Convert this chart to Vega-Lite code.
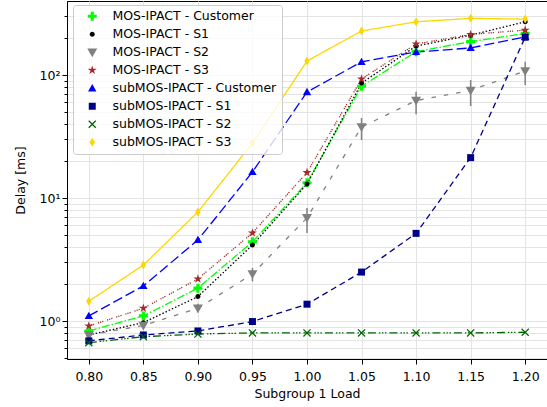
{
  "$schema": "https://vega.github.io/schema/vega-lite/v6.json",
  "width": 480,
  "height": 358,
  "autosize": {"type": "none"},
  "padding": {"left": 67, "top": 1, "right": 0, "bottom": 48},
  "background": "white",
  "config": {
    "view": {"stroke": "black", "strokeWidth": 1},
    "axis": {
      "labelFont": "DejaVu Sans", "titleFont": "DejaVu Sans",
      "labelFontSize": 12.5, "titleFontSize": 12.5, "titleFontWeight": "normal",
      "labelColor": "black", "titleColor": "black",
      "domainColor": "black", "tickColor": "black",
      "gridColor": "#e4e4e4", "grid": true, "labelOverlap": false
    },
    "legend": {
      "title": null, "orient": "none", "legendX": 6, "legendY": 4,
      "labelFont": "DejaVu Sans", "labelFontSize": 12.5, "labelColor": "black", "labelLimit": 300,
      "strokeColor": "#cccccc", "fillColor": "rgba(255,255,255,0.8)", "cornerRadius": 3,
      "padding": 5, "rowPadding": 5, "symbolSize": 64, "symbolOffset": 8, "labelOffset": 14,
      "symbolStrokeWidth": 0
    }
  },
  "datasets": {
    "series": [
      {"load": 0.80, "delay": 0.83, "series": "MOS-IPACT - Customer"},
      {"load": 0.85, "delay": 1.10, "series": "MOS-IPACT - Customer"},
      {"load": 0.90, "delay": 1.85, "series": "MOS-IPACT - Customer"},
      {"load": 0.95, "delay": 4.4, "series": "MOS-IPACT - Customer"},
      {"load": 1.00, "delay": 13.3, "series": "MOS-IPACT - Customer"},
      {"load": 1.05, "delay": 81, "series": "MOS-IPACT - Customer"},
      {"load": 1.10, "delay": 155, "series": "MOS-IPACT - Customer"},
      {"load": 1.15, "delay": 187, "series": "MOS-IPACT - Customer"},
      {"load": 1.20, "delay": 218, "series": "MOS-IPACT - Customer"},
      {"load": 0.80, "delay": 0.77, "series": "MOS-IPACT - S1"},
      {"load": 0.85, "delay": 0.97, "series": "MOS-IPACT - S1"},
      {"load": 0.90, "delay": 1.58, "series": "MOS-IPACT - S1"},
      {"load": 0.95, "delay": 4.15, "series": "MOS-IPACT - S1"},
      {"load": 1.00, "delay": 13.0, "series": "MOS-IPACT - S1"},
      {"load": 1.05, "delay": 86, "series": "MOS-IPACT - S1"},
      {"load": 1.10, "delay": 172, "series": "MOS-IPACT - S1"},
      {"load": 1.15, "delay": 211, "series": "MOS-IPACT - S1"},
      {"load": 1.20, "delay": 271, "series": "MOS-IPACT - S1"},
      {"load": 0.80, "delay": 0.77, "series": "MOS-IPACT - S2"},
      {"load": 0.85, "delay": 0.92, "series": "MOS-IPACT - S2"},
      {"load": 0.90, "delay": 1.27, "series": "MOS-IPACT - S2"},
      {"load": 0.95, "delay": 2.41, "series": "MOS-IPACT - S2"},
      {"load": 1.00, "delay": 6.9, "series": "MOS-IPACT - S2"},
      {"load": 1.05, "delay": 37.8, "series": "MOS-IPACT - S2"},
      {"load": 1.10, "delay": 62, "series": "MOS-IPACT - S2"},
      {"load": 1.15, "delay": 75, "series": "MOS-IPACT - S2"},
      {"load": 1.20, "delay": 108, "series": "MOS-IPACT - S2"},
      {"load": 0.80, "delay": 0.91, "series": "MOS-IPACT - S3"},
      {"load": 0.85, "delay": 1.27, "series": "MOS-IPACT - S3"},
      {"load": 0.90, "delay": 2.2, "series": "MOS-IPACT - S3"},
      {"load": 0.95, "delay": 5.2, "series": "MOS-IPACT - S3"},
      {"load": 1.00, "delay": 16.1, "series": "MOS-IPACT - S3"},
      {"load": 1.05, "delay": 93, "series": "MOS-IPACT - S3"},
      {"load": 1.10, "delay": 179, "series": "MOS-IPACT - S3"},
      {"load": 1.15, "delay": 214, "series": "MOS-IPACT - S3"},
      {"load": 1.20, "delay": 232, "series": "MOS-IPACT - S3"},
      {"load": 0.80, "delay": 1.10, "series": "subMOS-IPACT - Customer"},
      {"load": 0.85, "delay": 1.93, "series": "subMOS-IPACT - Customer"},
      {"load": 0.90, "delay": 4.56, "series": "subMOS-IPACT - Customer"},
      {"load": 0.95, "delay": 16.3, "series": "subMOS-IPACT - Customer"},
      {"load": 1.00, "delay": 72.8, "series": "subMOS-IPACT - Customer"},
      {"load": 1.05, "delay": 128, "series": "subMOS-IPACT - Customer"},
      {"load": 1.10, "delay": 154, "series": "subMOS-IPACT - Customer"},
      {"load": 1.15, "delay": 166, "series": "subMOS-IPACT - Customer"},
      {"load": 1.20, "delay": 204, "series": "subMOS-IPACT - Customer"},
      {"load": 0.80, "delay": 0.69, "series": "subMOS-IPACT - S1"},
      {"load": 0.85, "delay": 0.77, "series": "subMOS-IPACT - S1"},
      {"load": 0.90, "delay": 0.83, "series": "subMOS-IPACT - S1"},
      {"load": 0.95, "delay": 0.99, "series": "subMOS-IPACT - S1"},
      {"load": 1.00, "delay": 1.37, "series": "subMOS-IPACT - S1"},
      {"load": 1.05, "delay": 2.5, "series": "subMOS-IPACT - S1"},
      {"load": 1.10, "delay": 5.16, "series": "subMOS-IPACT - S1"},
      {"load": 1.15, "delay": 21.3, "series": "subMOS-IPACT - S1"},
      {"load": 1.20, "delay": 203, "series": "subMOS-IPACT - S1"},
      {"load": 0.80, "delay": 0.667, "series": "subMOS-IPACT - S2"},
      {"load": 0.85, "delay": 0.745, "series": "subMOS-IPACT - S2"},
      {"load": 0.90, "delay": 0.784, "series": "subMOS-IPACT - S2"},
      {"load": 0.95, "delay": 0.80, "series": "subMOS-IPACT - S2"},
      {"load": 1.00, "delay": 0.80, "series": "subMOS-IPACT - S2"},
      {"load": 1.05, "delay": 0.80, "series": "subMOS-IPACT - S2"},
      {"load": 1.10, "delay": 0.80, "series": "subMOS-IPACT - S2"},
      {"load": 1.15, "delay": 0.80, "series": "subMOS-IPACT - S2"},
      {"load": 1.20, "delay": 0.81, "series": "subMOS-IPACT - S2"},
      {"load": 0.80, "delay": 1.45, "series": "subMOS-IPACT - S3"},
      {"load": 0.85, "delay": 2.85, "series": "subMOS-IPACT - S3"},
      {"load": 0.90, "delay": 7.7, "series": "subMOS-IPACT - S3"},
      {"load": 0.95, "delay": 28, "series": "subMOS-IPACT - S3"},
      {"load": 1.00, "delay": 130, "series": "subMOS-IPACT - S3"},
      {"load": 1.05, "delay": 228, "series": "subMOS-IPACT - S3"},
      {"load": 1.10, "delay": 271, "series": "subMOS-IPACT - S3"},
      {"load": 1.15, "delay": 289, "series": "subMOS-IPACT - S3"},
      {"load": 1.20, "delay": 285, "series": "subMOS-IPACT - S3"}
    ],
    "err": [
      {"load": 0.90, "lo": 1.18, "hi": 1.38},
      {"load": 0.95, "lo": 2.1, "hi": 2.7},
      {"load": 1.00, "lo": 5.2, "hi": 8.3},
      {"load": 1.05, "lo": 29.6, "hi": 44.7},
      {"load": 1.10, "lo": 48, "hi": 73},
      {"load": 1.15, "lo": 56, "hi": 91},
      {"load": 1.20, "lo": 83, "hi": 128}
    ]
  },
  "layer": [
    {
      "data": {"name": "err"},
      "mark": {"type": "rule", "color": "#808080", "strokeWidth": 1.5},
      "encoding": {
        "x": {"field": "load", "type": "quantitative"},
        "y": {"field": "lo", "type": "quantitative", "title": "Delay [ms]"},
        "y2": {"field": "hi"}
      }
    },
    {
      "data": {"name": "series"},
      "mark": {"type": "line", "strokeWidth": 1.3},
      "encoding": {
        "x": {"field": "load", "type": "quantitative"},
        "y": {"field": "delay", "type": "quantitative", "title": "Delay [ms]"},
        "color": {"field": "series", "type": "nominal"},
        "strokeDash": {
          "field": "series", "type": "nominal", "legend": null,
          "scale": {
            "domain": ["MOS-IPACT - Customer", "MOS-IPACT - S1", "MOS-IPACT - S2", "MOS-IPACT - S3", "subMOS-IPACT - Customer", "subMOS-IPACT - S1", "subMOS-IPACT - S2", "subMOS-IPACT - S3"],
            "range": [[8, 2, 1.5, 2], [1.5, 2], [4.5, 8], [1.2, 1, 1.2, 1, 1.2, 4], [10, 4], [6, 4], [8, 3, 1.5, 1.5, 1.5, 1.5, 1.5, 3], [1, 0]]
          }
        }
      }
    },
    {
      "data": {"name": "series"},
      "mark": {"type": "point", "filled": true, "opacity": 1, "strokeWidth": 0},
      "encoding": {
        "x": {
          "field": "load", "type": "quantitative", "title": "Subgroup 1 Load",
          "scale": {"domain": [0.78, 1.22], "zero": false, "nice": false},
          "axis": {"values": [0.8, 0.85, 0.9, 0.95, 1.0, 1.05, 1.1, 1.15, 1.2], "format": ".2f", "tickSize": 5, "labelPadding": 6, "titlePadding": 5, "labelFlush": false}
        },
        "y": {
          "field": "delay", "type": "quantitative", "title": "Delay [ms]",
          "scale": {"type": "log", "domain": [0.491, 400], "nice": false},
          "axis": {
            "values": [0.5, 0.6, 0.7, 0.8, 0.9, 1, 2, 3, 4, 5, 6, 7, 8, 9, 10, 20, 30, 40, 50, 60, 70, 80, 90, 100, 200, 300],
            "labelExpr": "datum.value == 1 ? '10⁰' : datum.value == 10 ? '10¹' : datum.value == 100 ? '10²' : ''",
            "tickSize": {"condition": {"test": "datum.value == 1 || datum.value == 10 || datum.value == 100", "value": 5}, "value": 3},
            "labelPadding": 2, "titlePadding": 12
          }
        },
        "color": {
          "field": "series", "type": "nominal",
          "scale": {
            "domain": ["MOS-IPACT - Customer", "MOS-IPACT - S1", "MOS-IPACT - S2", "MOS-IPACT - S3", "subMOS-IPACT - Customer", "subMOS-IPACT - S1", "subMOS-IPACT - S2", "subMOS-IPACT - S3"],
            "range": ["#00ff00", "#000000", "#808080", "#a52a2a", "#0000ff", "#00008b", "#006400", "#ffd700"]
          },
          "legend": {
            "encode": {
              "symbols": {
                "shape": {"value": {"expr": "['M-3.2,-0.16L-2.5,-0.16L-2.5,0.16L-3.2,0.16ZM-2.15,-0.16L-1.9,-0.16L-1.9,0.16L-2.15,0.16ZM-1.6,-0.16L-1,-0.16L-1,0.16L-1.6,0.16ZM1,-0.16L1.6,-0.16L1.6,0.16L1,0.16ZM1.9,-0.16L2.15,-0.16L2.15,0.16L1.9,0.16ZM2.5,-0.16L3.2,-0.16L3.2,0.16L2.5,0.16ZM-0.35,-1L0.35,-1L0.35,-0.35L1,-0.35L1,0.35L0.35,0.35L0.35,1L-0.35,1L-0.35,0.35L-1,0.35L-1,-0.35L-0.35,-0.35Z', 'M-3.2,-0.16L-2.85,-0.16L-2.85,0.16L-3.2,0.16ZM-2.45,-0.16L-2.1,-0.16L-2.1,0.16L-2.45,0.16ZM-1.7,-0.16L-1.35,-0.16L-1.35,0.16L-1.7,0.16ZM-0.95,-0.16L-0.7,-0.16L-0.7,0.16L-0.95,0.16ZM0.7,-0.16L0.95,-0.16L0.95,0.16L0.7,0.16ZM1.35,-0.16L1.7,-0.16L1.7,0.16L1.35,0.16ZM2.1,-0.16L2.45,-0.16L2.45,0.16L2.1,0.16ZM2.85,-0.16L3.2,-0.16L3.2,0.16L2.85,0.16ZM0.65,0A0.65,0.65,0,1,1,-0.65,0A0.65,0.65,0,1,1,0.65,0Z', 'M-3.2,-0.16L-1.6,-0.16L-1.6,0.16L-3.2,0.16ZM1.6,-0.16L3.2,-0.16L3.2,0.16L1.6,0.16ZM0,1L1,-0.75L-1,-0.75Z', 'M-3.2,-0.16L-2.9,-0.16L-2.9,0.16L-3.2,0.16ZM-2.55,-0.16L-2.25,-0.16L-2.25,0.16L-2.55,0.16ZM-1.9,-0.16L-1.6,-0.16L-1.6,0.16L-1.9,0.16ZM-1.25,-0.16L-1,-0.16L-1,0.16L-1.25,0.16ZM1,-0.16L1.25,-0.16L1.25,0.16L1,0.16ZM1.6,-0.16L1.9,-0.16L1.9,0.16L1.6,0.16ZM2.25,-0.16L2.55,-0.16L2.55,0.16L2.25,0.16ZM2.9,-0.16L3.2,-0.16L3.2,0.16L2.9,0.16ZM0,-1L0.225,-0.309L0.951,-0.309L0.363,0.118L0.588,0.809L0,0.382L-0.588,0.809L-0.363,0.118L-0.951,-0.309L-0.225,-0.309Z', 'M-3.2,-0.16L-1,-0.16L-1,0.16L-3.2,0.16ZM1,-0.16L3.2,-0.16L3.2,0.16L1,0.16ZM0,-1L1,0.75L-1,0.75Z', 'M-3.2,-0.16L-1,-0.16L-1,0.16L-3.2,0.16ZM1,-0.16L3.2,-0.16L3.2,0.16L1,0.16ZM-1,-1L1,-1L1,1L-1,1Z', 'M-3.2,-0.16L-1,-0.16L-1,0.16L-3.2,0.16ZM1,-0.16L1.5,-0.16L1.5,0.16L1,0.16ZM1.85,-0.16L2.1,-0.16L2.1,0.16L1.85,0.16ZM2.45,-0.16L2.7,-0.16L2.7,0.16L2.45,0.16ZM2.95,-0.16L3.2,-0.16L3.2,0.16L2.95,0.16ZM0,-0.22L0.78,-1L1,-0.78L0.22,0L1,0.78L0.78,1L0,0.22L-0.78,1L-1,0.78L-0.22,0L-1,-0.78L-0.78,-1Z', 'M-3.2,-0.16L-0.6,-0.16L-0.6,0.16L-3.2,0.16ZM0.6,-0.16L3.2,-0.16L3.2,0.16L0.6,0.16ZM0,-1L0.6,0L0,1L-0.6,0Z'][indexof(domain('color'), datum.value)]"}},
                "fill": {"value": {"expr": "scale('color', datum.value)"}},
                "opacity": {"value": 1}
              }
            }
          }
        },
        "shape": {
          "field": "series", "type": "nominal",
          "scale": {
            "domain": ["MOS-IPACT - Customer", "MOS-IPACT - S1", "MOS-IPACT - S2", "MOS-IPACT - S3", "subMOS-IPACT - Customer", "subMOS-IPACT - S1", "subMOS-IPACT - S2", "subMOS-IPACT - S3"],
            "range": [
              "M-0.35,-1L0.35,-1L0.35,-0.35L1,-0.35L1,0.35L0.35,0.35L0.35,1L-0.35,1L-0.35,0.35L-1,0.35L-1,-0.35L-0.35,-0.35Z",
              "M0.65,0A0.65,0.65,0,1,1,-0.65,0A0.65,0.65,0,1,1,0.65,0Z",
              "M0,1L1,-0.75L-1,-0.75Z",
              "M0,-1L0.225,-0.309L0.951,-0.309L0.363,0.118L0.588,0.809L0,0.382L-0.588,0.809L-0.363,0.118L-0.951,-0.309L-0.225,-0.309Z",
              "M0,-1L1,0.75L-1,0.75Z",
              "M-1,-1L1,-1L1,1L-1,1Z",
              "M0,-0.22L0.78,-1L1,-0.78L0.22,0L1,0.78L0.78,1L0,0.22L-0.78,1L-1,0.78L-0.22,0L-1,-0.78L-0.78,-1Z",
              "M0,-1L0.6,0L0,1L-0.6,0Z"
            ]
          }
        },
        "size": {
          "field": "series", "type": "nominal", "legend": null,
          "scale": {
            "type": "ordinal",
            "domain": ["MOS-IPACT - Customer", "MOS-IPACT - S1", "MOS-IPACT - S2", "MOS-IPACT - S3", "subMOS-IPACT - Customer", "subMOS-IPACT - S1", "subMOS-IPACT - S2", "subMOS-IPACT - S3"],
            "range": [81, 59, 100, 90, 70, 49, 64, 81]
          }
        }
      }
    }
  ]
}
